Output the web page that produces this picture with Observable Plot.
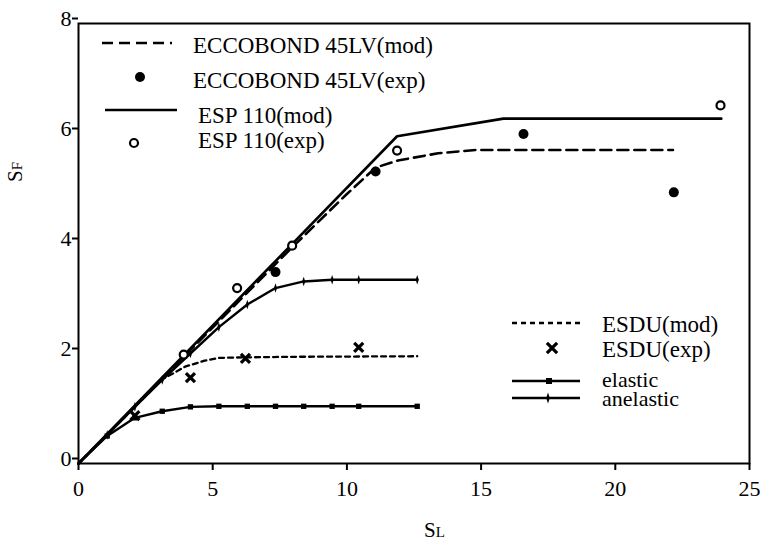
<!DOCTYPE html>
<html>
<head>
<meta charset="utf-8">
<script src="https://cdn.jsdelivr.net/npm/d3@7"></script>
<script src="https://cdn.jsdelivr.net/npm/@observablehq/plot@0.6"></script>
<style>
  html, body { margin: 0; padding: 0; background: #fff; }
  #chart { width: 762px; height: 544px; }
</style>
</head>
<body>
<div id="chart"></div>
<script>
// ---- data ----
const xTicks = [0, 5, 10, 15, 20, 25];
const yTicks = [0, 2, 4, 6, 8];

const eccModX = [0, 4, 8, 10, 11.07, 11.9, 13.4, 14.8, 22.15];
const eccModY = [0, 1.98, 3.95, 4.9, 5.38, 5.51, 5.64, 5.70, 5.70];

const eccExpX = [7.34, 11.07, 16.58, 22.18];
const eccExpY = [3.48, 5.31, 5.99, 4.93];

const espModX = [0, 11.87, 15.83, 23.95];
const espModY = [0, 5.95, 6.27, 6.27];

const espExpX = [3.92, 5.91, 7.96, 11.87, 23.92];
const espExpY = [1.98, 3.19, 3.96, 5.69, 6.51];

const esduModX = [0, 1.07, 2.10, 3.12, 3.97, 4.7, 5.23, 6.22, 8, 12.62];
const esduModY = [0, 0.52, 1.03, 1.53, 1.76, 1.87, 1.92, 1.93, 1.94, 1.95];

const esduExpX = [2.10, 4.17, 6.22, 10.44];
const esduExpY = [0.87, 1.56, 1.91, 2.11];

const elasticX = [0, 1.07, 2.10, 3.12, 4.17, 5.23, 6.29, 7.34, 8.39, 9.45, 10.44, 12.62];
const elasticY = [0, 0.50, 0.83, 0.95, 1.03, 1.04, 1.04, 1.04, 1.04, 1.04, 1.04, 1.04];

const anelasticX = [0, 1.07, 2.10, 3.12, 4.17, 5.23, 6.29, 7.34, 8.39, 9.45, 10.44, 12.62];
const anelasticY = [0, 0.52, 1.03, 1.52, 2.0, 2.48, 2.89, 3.19, 3.31, 3.34, 3.34, 3.34];

const legendTop = ["ECCOBOND 45LV(mod)", "ECCOBOND 45LV(exp)", "ESP 110(mod)", "ESP 110(exp)"];
const legendBottom = ["ESDU(mod)", "ESDU(exp)", "elastic", "anelastic"];

// ---- helpers ----
const zip = (xs, ys) => xs.map((x, i) => ({x, y: ys[i]}));
const thinDiamond = {
  draw(ctx, size) {
    const r = Math.sqrt(size) / 2;
    ctx.moveTo(0, -r * 1.7);
    ctx.lineTo(r * 0.55, 0);
    ctx.lineTo(0, r * 1.7);
    ctx.lineTo(-r * 0.55, 0);
    ctx.closePath();
  }
};

const FONT = "'Liberation Serif', 'Times New Roman', serif";

const plot = Plot.plot({
  width: 762,
  height: 544,
  marginLeft: 78,
  marginRight: 13,
  marginTop: 23,
  marginBottom: 81,
  style: {fontFamily: FONT, fontSize: "22px", color: "black", background: "white"},
  x: {domain: [0, 25]},
  y: {domain: [0, 8]},
  marks: [
    Plot.frame({stroke: "black", strokeWidth: 2}),
    Plot.axisX({ticks: xTicks, tickSize: 7, tickPadding: 10, tickFormat: d => String(d), label: null, fontSize: 22, strokeWidth: 2}),
    Plot.axisY({ticks: yTicks, tickSize: 6, tickPadding: 1, tickFormat: d => String(d), label: null, fontSize: 22, strokeWidth: 2, dy: -5}),
    Plot.line(zip(espModX, espModY), {x: "x", y: "y", stroke: "black", strokeWidth: 2.6}),
    Plot.line(zip(eccModX, eccModY), {x: "x", y: "y", stroke: "black", strokeWidth: 2.6, strokeDasharray: "11,6"}),
    Plot.line(zip(esduModX, esduModY), {x: "x", y: "y", stroke: "black", strokeWidth: 2.3, strokeDasharray: "5,4"}),
    Plot.line(zip(elasticX, elasticY), {x: "x", y: "y", stroke: "black", strokeWidth: 2.4}),
    Plot.dot(zip(elasticX, elasticY).filter(d => d.x > 0), {x: "x", y: "y", symbol: "square", r: 3, fill: "black"}),
    Plot.line(zip(anelasticX, anelasticY), {x: "x", y: "y", stroke: "black", strokeWidth: 2.4}),
    Plot.dot(zip(anelasticX, anelasticY).filter(d => d.x > 0), {x: "x", y: "y", symbol: thinDiamond, r: 3.2, fill: "black"}),
    Plot.dot(zip(eccExpX, eccExpY), {x: "x", y: "y", r: 5, fill: "black"}),
    Plot.dot(zip(espExpX, espExpY), {x: "x", y: "y", r: 4, fill: "white", stroke: "black", strokeWidth: 2.2}),
    Plot.dot(zip(esduExpX, esduExpY), {x: "x", y: "y", symbol: "times", r: 4.2, stroke: "black", strokeWidth: 3.2})
  ]
});

document.getElementById("chart").appendChild(plot);

// ---- axis titles with subscripts, and legends ----
const svg = d3.select(plot);

const yt = svg.append("text")
  .attr("transform", "translate(22,172) rotate(-90)")
  .attr("text-anchor", "middle")
  .attr("font-family", FONT)
  .attr("font-size", 21)
  .attr("fill", "black");
yt.append("tspan").text("S");
yt.append("tspan").attr("font-size", 15).text("F");

const xt = svg.append("text")
  .attr("x", 424).attr("y", 537)
  .attr("text-anchor", "start")
  .attr("font-family", FONT)
  .attr("font-size", 21)
  .attr("fill", "black");
xt.append("tspan").text("S");
xt.append("tspan").attr("font-size", 15).text("L");

const lg = svg.append("g")
  .attr("font-family", FONT)
  .attr("font-size", 23)
  .attr("text-anchor", "start")
  .attr("fill", "black");

// top legend
lg.append("line").attr("x1", 102).attr("x2", 172).attr("y1", 43).attr("y2", 43)
  .attr("stroke", "black").attr("stroke-width", 2.6).attr("stroke-dasharray", "11,6");
lg.append("circle").attr("cx", 140).attr("cy", 77).attr("r", 5).attr("fill", "black");
lg.append("line").attr("x1", 105).attr("x2", 177).attr("y1", 110).attr("y2", 110)
  .attr("stroke", "black").attr("stroke-width", 2.6);
lg.append("circle").attr("cx", 134).attr("cy", 143).attr("r", 4).attr("fill", "white")
  .attr("stroke", "black").attr("stroke-width", 2.2);

const topY = [53, 88, 123, 148];
const topX = [193, 193, 198, 198];
legendTop.forEach((t, i) => lg.append("text").attr("x", topX[i]).attr("y", topY[i]).text(t));

// bottom legend
lg.append("line").attr("x1", 512).attr("x2", 580).attr("y1", 323).attr("y2", 323)
  .attr("stroke", "black").attr("stroke-width", 2.3).attr("stroke-dasharray", "5,4");
lg.append("path").attr("transform", "translate(552,348)")
  .attr("d", d3.symbol(d3.symbolTimes, 4.2 * 4.2 * 4)())
  .attr("stroke", "black").attr("stroke-width", 3.2).attr("fill", "none");
lg.append("line").attr("x1", 512).attr("x2", 580).attr("y1", 381).attr("y2", 381)
  .attr("stroke", "black").attr("stroke-width", 2.4);
lg.append("path").attr("transform", "translate(549,381)")
  .attr("d", d3.symbol(d3.symbolSquare, 36)()).attr("fill", "black");
lg.append("line").attr("x1", 512).attr("x2", 580).attr("y1", 398).attr("y2", 398)
  .attr("stroke", "black").attr("stroke-width", 2.4);
lg.append("path").attr("transform", "translate(548,398)")
  .attr("d", d3.symbol(thinDiamond, 3.2 * 3.2 * 4)()).attr("fill", "black");

const botY = [332, 357, 387, 406];
const botSize = [23, 23, 22, 22];
legendBottom.forEach((t, i) => lg.append("text").attr("x", 602).attr("y", botY[i]).attr("font-size", botSize[i]).text(t));
</script>
</body>
</html>
